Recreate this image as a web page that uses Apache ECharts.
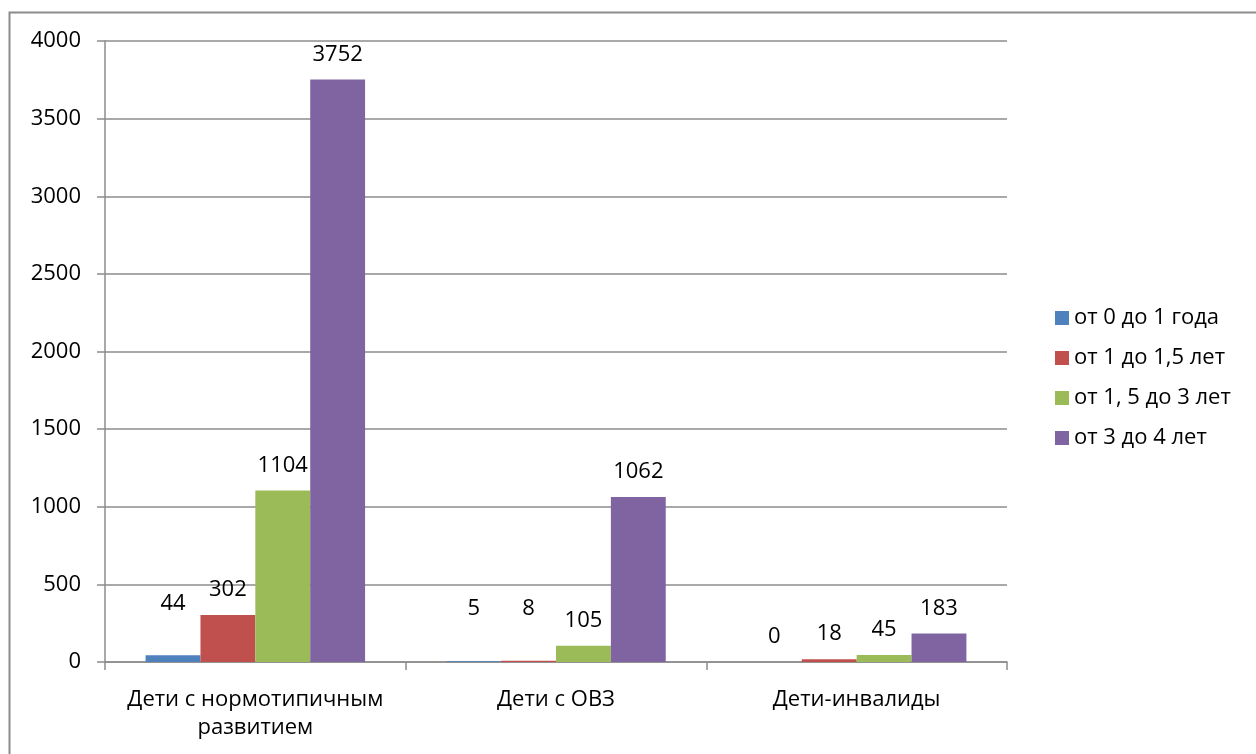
<!DOCTYPE html>
<html>
<head>
<meta charset="utf-8">
<script src="https://cdn.jsdelivr.net/npm/echarts@6/dist/echarts.min.js"></script>
<style>
  html, body { margin: 0; padding: 0; background: #fff; }
  #chart { width: 1256px; height: 754px; }
</style>
</head>
<body>
<div id="chart"></div>
<script>
// categories and series
var categories = ["Дети с нормотипичным\nразвитием", "Дети с ОВЗ", "Дети-инвалиды"];
var seriesNames = ["от 0 до 1 года", "от 1 до 1,5 лет", "от 1, 5 до 3 лет", "от 3 до 4 лет"];
var age0to1 = [44, 5, 0];
var age1to15 = [302, 8, 18];
var age15to3 = [1104, 105, 45];
var age3to4 = [3752, 1062, 183];
var colors = ["#4F81BD", "#C0504D", "#9BBB59", "#8064A2"];

var chart = echarts.init(document.getElementById("chart"));
var font = "'Open Sans', 'Noto Sans', sans-serif";
var values = [age0to1, age1to15, age15to3, age3to4];

// labels that Excel pushed up to avoid overlap (series index -> category index)
var liftedLabels = { "0-0": 26, "0-1": 27, "1-1": 27 };

var series = values.map(function (arr, i) {
  return {
    name: seriesNames[i],
    type: "bar",
    data: arr.map(function (v, j) {
      var lift = liftedLabels[i + "-" + j];
      return lift ? { value: v, label: { offset: [0, -lift] } } : v;
    }),
    barGap: "0%",
    barCategoryGap: "27%",
    itemStyle: { color: colors[i] },
    label: {
      show: true,
      position: "top",
      distance: 14,
      color: "#000",
      fontFamily: font,
      fontSize: 22
    }
  };
});

var option = {
  animation: false,
  backgroundColor: "#fff",
  textStyle: { fontFamily: font },
  graphic: [{
    type: "rect",
    shape: { x: 9.5, y: 12.5, width: 1260, height: 760 },
    style: { fill: "none", stroke: "#8c8c8c", lineWidth: 2 },
    silent: true
  }],
  grid: { left: 105, right: 249, top: 41, bottom: 92 },
  legend: {
    orient: "vertical",
    left: 1050,
    top: 302,
    itemWidth: 14,
    itemHeight: 14,
    itemGap: 18,
    icon: "rect",
    textStyle: { fontFamily: font, fontSize: 22, color: "#000" },
    data: seriesNames
  },
  xAxis: {
    type: "category",
    data: categories,
    axisLine: { lineStyle: { color: "#8c8c8c", width: 1.5 } },
    axisTick: { show: true, length: 8, lineStyle: { color: "#8c8c8c", width: 1.5 } },
    axisLabel: { color: "#000", fontSize: 22, lineHeight: 28, margin: 24, interval: 0, fontFamily: font }
  },
  yAxis: {
    type: "value",
    min: 0,
    max: 4000,
    interval: 500,
    axisLine: { show: true, lineStyle: { color: "#8c8c8c", width: 1.5 } },
    axisTick: { show: true, length: 8, lineStyle: { color: "#8c8c8c", width: 1.5 } },
    splitLine: { lineStyle: { color: "#8c8c8c", width: 1.5 } },
    axisLabel: {
      color: "#000", fontSize: 22, margin: 24, fontFamily: font,
      formatter: function (v) { return String(v); }
    }
  },
  series: series
};

chart.setOption(option);
</script>
</body>
</html>
